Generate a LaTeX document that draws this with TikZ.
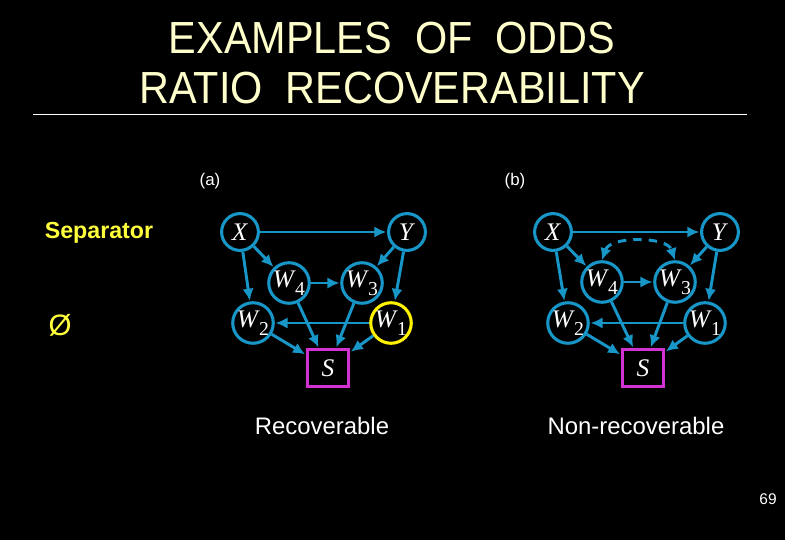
\documentclass[tikz,border=0pt]{standalone}
\usepackage{fontspec}
\setmainfont{Liberation Sans}
\newfontfamily\titlefont{Liberation Sans}[FakeStretch=0.92]
\newfontfamily\varfont{Liberation Serif}
\usetikzlibrary{arrows.meta, positioning}

\definecolor{edgeblue}{RGB}{24,150,200}
\definecolor{cream}{RGB}{255,255,204}
\definecolor{selpink}{RGB}{210,50,210}
\definecolor{sepyellow}{RGB}{255,255,60}

\newcommand{\wvar}[1]{\textit{W}\kern-0.5pt\raisebox{-0.7ex}{\fontsize{14}{14}\selectfont #1}}

\begin{document}
\begin{tikzpicture}[
  x=0.025cm, y=-0.025cm,
  font=\fontsize{17}{20}\selectfont,
  var/.style={circle, draw=edgeblue, line width=2.2pt, minimum size=0.92cm, inner sep=0pt, text=white, font=\varfont\fontsize{18}{20}\selectfont},
  sel/.style={draw=selpink, line width=2.4pt, minimum width=1.03cm, minimum height=0.92cm, inner sep=0pt, text=white, font=\varfont\itshape\fontsize{18}{20}\selectfont},
  arc/.style={edgeblue, line width=2.1pt, -{Latex[length=3mm, width=2.8mm]}, shorten >=0.5pt},
  conf/.style={edgeblue, line width=2.1pt, dash pattern=on 6pt off 5pt, {Latex[length=3mm, width=2.8mm]}-{Latex[length=3mm, width=2.8mm]}},
]
\fill[black] (0,0) rectangle (785,540);
\useasboundingbox (0,0) rectangle (785,540);

% Title
\node[text=cream, font=\titlefont\fontsize{32}{36}\selectfont] (title1) at (392,38) {EXAMPLES\ \ OF\ \ ODDS};
\node[text=cream, font=\titlefont\fontsize{32}{36}\selectfont] (title2) at (392,88) {RATIO\ \ RECOVERABILITY};
\draw[white, line width=0.6pt] (33,114) -- (747,114);

% Row labels
\node[text=white, font=\fontsize{12}{14}\selectfont] (laba) at (210,181) {(a)};
\node[text=white, font=\fontsize{12}{14}\selectfont] (labb) at (515,181) {(b)};
\node[text=sepyellow, font=\bfseries\fontsize{16.5}{20}\selectfont] (sep) at (99,233) {Separator};
\node[text=sepyellow, font=\fontsize{21}{24}\selectfont] (empty) at (60,325) {Ø};

% Graph (a)
\node[var] (ax) at (240,232) {\textit{X}};
\node[var] (ay) at (407,232) {\textit{Y}};
\node[var] (aw4) at (289,283) {\wvar{4}};
\node[var] (aw3) at (362,283) {\wvar{3}};
\node[var] (aw2) at (253,323) {\wvar{2}};
\node[var, draw=yellow] (aw1) at (391,323) {\wvar{1}};
\node[sel] (as) at (328,368) {S};

\draw[arc] (ax) -- (ay);
\draw[arc] (ax) -- (aw4);
\draw[arc] (ax) -- (aw2);
\draw[arc] (ay) -- (aw3);
\draw[arc] (ay) -- (aw1);
\draw[arc] (aw4) -- (aw3);
\draw[arc] (aw1) -- (aw2);
\draw[arc] (aw4) -- (as);
\draw[arc] (aw3) -- (as);
\draw[arc] (aw2) -- (as);
\draw[arc] (aw1) -- (as);
\node[text=white] (reca) at (322,426) {Recoverable};

% Graph (b)
\node[var] (bx) at (553,232) {\textit{X}};
\node[var] (by) at (720,232) {\textit{Y}};
\node[var] (bw4) at (602,282) {\wvar{4}};
\node[var] (bw3) at (675,282) {\wvar{3}};
\node[var] (bw2) at (568,323) {\wvar{2}};
\node[var] (bw1) at (705,323) {\wvar{1}};
\node[sel] (bs) at (643,368) {S};

\draw[arc] (bx) -- (by);
\draw[arc] (bx) -- (bw4);
\draw[arc] (bx) -- (bw2);
\draw[arc] (by) -- (bw3);
\draw[arc] (by) -- (bw1);
\draw[arc] (bw4) -- (bw3);
\draw[arc] (bw1) -- (bw2);
\draw[arc] (bw4) -- (bs);
\draw[arc] (bw3) -- (bs);
\draw[arc] (bw2) -- (bs);
\draw[arc] (bw1) -- (bs);
\draw[conf] (bw4.north) .. controls (610,236) and (667,236) .. (bw3.north);
\node[text=white] (recb) at (636,426) {Non-recoverable};

% Page number
\node[text=white, font=\fontsize{11}{13}\selectfont] (page) at (768,499) {69};
\end{tikzpicture}
\end{document}
